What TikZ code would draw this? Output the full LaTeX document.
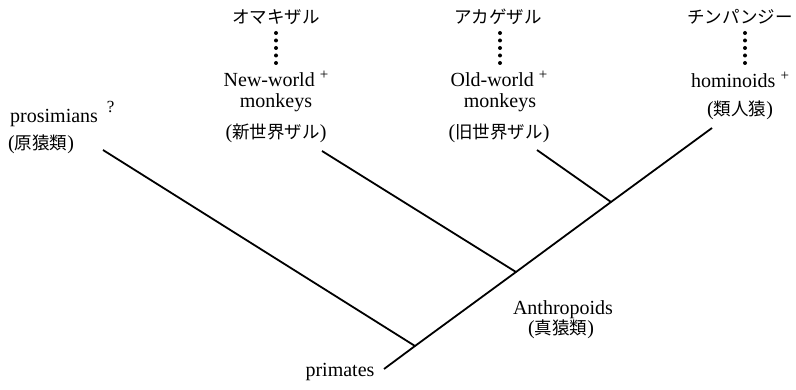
\documentclass[tikz,border=0pt]{standalone}
\usepackage{fontspec}
\setmainfont{Liberation Serif}
\newfontfamily\jpfont{Noto Sans CJK JP}
\usepackage{tikz}
\usetikzlibrary{positioning}
\newcommand{\jtxt}[1]{{\fontsize{17.5}{20}\selectfont\jpfont #1}}
\newcommand{\pluslbl}{\hspace{5pt}\raisebox{7pt}{\fontsize{15}{15}\selectfont +}}
\newcommand{\querylbl}{\hspace{9pt}\raisebox{10pt}{\fontsize{17}{17}\selectfont ?}}
\tikzset{
  lbl/.style={anchor=base, inner sep=0pt, font=\fontsize{20}{22}\selectfont},
  lblw/.style={lbl, anchor=base west},
  jp/.style={anchor=base, inner sep=0pt, font=\fontsize{17.5}{20}\selectfont\jpfont},
  branch/.style={line width=1.8pt},
  dotcol/.style={line width=4pt, line cap=round, dash pattern=on 0pt off 7.5pt},
}

\begin{document}
\begin{tikzpicture}[x=1pt, y=-1pt]
    \useasboundingbox (0,0) rectangle (796,390);
    % species at the top
    \node[jp] (omaki) at (276,24) {オマキザル};
    \node[jp] (akage) at (498,24) {アカゲザル};
    \node[jp] (chimp) at (740,24) {チンパンジー};
    % groups
    \node[lbl] (nw) at (276,87) {New-world\pluslbl};
    \node[lbl] (nwm) at (276,107.5) {monkeys};
    \node[lbl] (nwj) at (276,139) {(\jtxt{新世界ザル})};
    \node[lbl] (ow) at (499,87) {Old-world\pluslbl};
    \node[lbl] (owm) at (500,108) {monkeys};
    \node[lbl] (owj) at (499,139) {(\jtxt{旧世界ザル})};
    \node[lbl] (homin) at (740,88) {hominoids\pluslbl};
    \node[lbl] (hominj) at (740,116) {(\jtxt{類人猿})};
    \node[lblw] (pros) at (10,123) {prosimians\querylbl};
    \node[lblw] (prosj) at (8,150) {(\jtxt{原猿類})};
    \node[lbl] (anth) at (563,315) {Anthropoids};
    \node[lbl] (anthj) at (561,335) {(\jtxt{真猿類})};
    \node[lbl] (prim) at (340,377) {primates};
    % dotted links
    \draw[dotcol] ([yshift=-9pt]omaki.base) -- ([yshift=23.5pt]nw.base);
    \draw[dotcol] ([xshift=2pt,yshift=-9pt]akage.base) -- ([xshift=1pt,yshift=23.5pt]ow.base);
    \draw[dotcol] ([xshift=5pt,yshift=-9pt]chimp.base) -- ([xshift=5pt,yshift=24.5pt]homin.base);
    % tree
    \coordinate (root) at (384,369);
    \coordinate (j1) at (415,346);
    \coordinate (j2) at (516,272);
    \coordinate (j3) at (611,202);
    \coordinate (homtip) at (712,128);
    \coordinate (prostip) at (103,150);
    \coordinate (nwtip) at (322,151);
    \coordinate (owtip) at (537,150);
    \draw[branch] (root) -- (j1) -- (j2) -- (j3) -- (homtip);
    \draw[branch] (prostip) -- (j1);
    \draw[branch] (nwtip) -- (j2);
    \draw[branch] (owtip) -- (j3);
\end{tikzpicture}
\end{document}
